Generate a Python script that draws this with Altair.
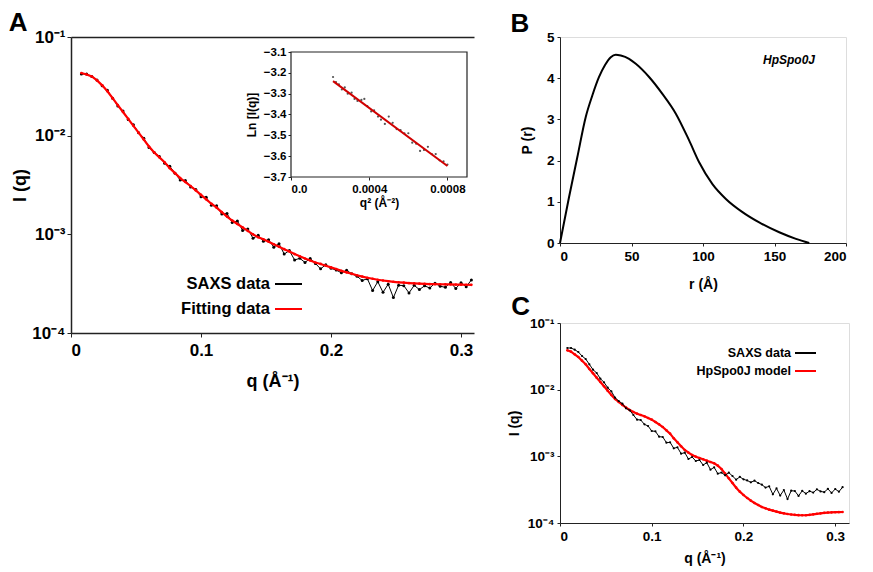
import altair as alt
import pandas as pd

FONT = "Liberation Sans"

# ---------------- data ----------------
q = [0.008, 0.012, 0.016, 0.020, 0.024, 0.028, 0.032, 0.036, 0.040, 0.044,
     0.048, 0.052, 0.056, 0.060, 0.064, 0.068, 0.072, 0.076, 0.080, 0.084,
     0.088, 0.092, 0.096, 0.100, 0.104, 0.108, 0.112, 0.116, 0.120, 0.124,
     0.128, 0.132, 0.136, 0.140, 0.144, 0.148, 0.152, 0.156, 0.160, 0.164,
     0.168, 0.172, 0.176, 0.180, 0.184, 0.188, 0.192, 0.196, 0.200, 0.204,
     0.208, 0.212, 0.216, 0.220, 0.224, 0.228, 0.232, 0.236, 0.240, 0.244,
     0.248, 0.252, 0.256, 0.260, 0.264, 0.268, 0.272, 0.276, 0.280, 0.284,
     0.288, 0.292, 0.296, 0.300, 0.304, 0.308]

# log10 I(q) of the SAXS data (black)
saxs_log10 = [-1.375, -1.375, -1.400, -1.435, -1.495, -1.540, -1.620, -1.700, -1.750, -1.835,
              -1.890, -1.970, -2.025, -2.120, -2.170, -2.210, -2.280, -2.310, -2.380, -2.450,
              -2.455, -2.520, -2.545, -2.620, -2.625, -2.705, -2.710, -2.795, -2.790, -2.880,
              -2.865, -2.960, -2.945, -3.040, -3.010, -3.070, -3.055, -3.130, -3.095, -3.200,
              -3.165, -3.260, -3.243, -3.285, -3.245, -3.295, -3.350, -3.308, -3.345, -3.362,
              -3.390, -3.365, -3.400, -3.425, -3.468, -3.450, -3.570, -3.480, -3.588, -3.505,
              -3.641, -3.516, -3.520, -3.594, -3.517, -3.560, -3.522, -3.544, -3.495, -3.526,
              -3.537, -3.488, -3.549, -3.490, -3.531, -3.462]

# log10 I(q) of the fitting curve (red, panel A)
fit_log10 = [-1.365, -1.380, -1.400, -1.440, -1.490, -1.550, -1.620, -1.690, -1.760, -1.830,
             -1.900, -1.970, -2.040, -2.110, -2.170, -2.220, -2.270, -2.330, -2.380, -2.430,
             -2.470, -2.510, -2.555, -2.600, -2.645, -2.690, -2.730, -2.775, -2.820, -2.860,
             -2.895, -2.930, -2.965, -3.000, -3.030, -3.050, -3.075, -3.100, -3.125, -3.150,
             -3.175, -3.200, -3.223, -3.245, -3.265, -3.285, -3.300, -3.318, -3.335, -3.352,
             -3.370, -3.385, -3.400, -3.415, -3.428, -3.440, -3.450, -3.460, -3.468, -3.475,
             -3.481, -3.486, -3.490, -3.494, -3.497, -3.500, -3.502, -3.504, -3.505, -3.506,
             -3.507, -3.508, -3.509, -3.510, -3.511, -3.512]

# log10 I(q) of the HpSpo0J model (red, panel C)
model_log10 = [-1.410, -1.430, -1.470, -1.510, -1.565, -1.620, -1.690, -1.755, -1.820, -1.885,
               -1.950, -2.015, -2.080, -2.140, -2.185, -2.230, -2.270, -2.305, -2.335, -2.360,
               -2.380, -2.400, -2.425, -2.450, -2.485, -2.520, -2.560, -2.610, -2.660, -2.730,
               -2.790, -2.850, -2.905, -2.945, -2.980, -3.005, -3.025, -3.045, -3.065, -3.085,
               -3.105, -3.140, -3.190, -3.260, -3.330, -3.400, -3.470, -3.530, -3.580, -3.625,
               -3.665, -3.700, -3.730, -3.760, -3.780, -3.800, -3.815, -3.830, -3.845, -3.855,
               -3.865, -3.872, -3.878, -3.882, -3.884, -3.883, -3.878, -3.870, -3.862, -3.855,
               -3.848, -3.843, -3.840, -3.838, -3.836, -3.835]

# Guinier inset
guinier_q2 = [0.000215, 0.00023, 0.000245, 0.00026, 0.000275, 0.00029, 0.00031, 0.000325,
              0.00034, 0.00036, 0.000375, 0.00039, 0.00041, 0.000425, 0.000445, 0.00046,
              0.00048, 0.0005, 0.00052, 0.00054, 0.00056, 0.00058, 0.0006, 0.00062,
              0.00064, 0.00066, 0.00068, 0.0007, 0.00072, 0.00074, 0.00076, 0.00078, 0.0008]
guinier_lnI = [-3.220, -3.245, -3.255, -3.280, -3.270, -3.300, -3.295, -3.325,
               -3.335, -3.330, -3.325, -3.360, -3.385, -3.380, -3.410, -3.425,
               -3.445, -3.410, -3.440, -3.470, -3.475, -3.490, -3.490, -3.535,
               -3.540, -3.575, -3.570, -3.555, -3.590, -3.590, -3.620, -3.625, -3.640]
guinier_fit_q2 = [0.000215, 0.0008]
guinier_fit_lnI = [-3.240, -3.647]

# Pair distance distribution
r_vals = [0, 6.3, 12.1, 18, 22.6, 27.3, 31.5, 35.5, 39, 42.5, 48.3, 53, 62.3, 71.6, 81, 90.3,
          97.3, 106.6, 116, 127.6, 139.3, 153.3, 165, 174.3]
p_vals = [0, 1.11, 2.08, 3.06, 3.58, 4.03, 4.32, 4.51, 4.57, 4.55, 4.47, 4.35, 4.03, 3.62,
          3.14, 2.49, 1.96, 1.43, 1.07, 0.75, 0.50, 0.26, 0.10, 0.0]

# axis / domain settings
A_q_domain = [0, 0.31]
I_domain = [1e-4, 1e-1]
C_q_domain = [0, 0.315]
inset_x_domain = [0, 0.0009]
inset_y_domain = [-3.7, -3.1]

A_W, A_H = 403, 296
B_W, B_H = 286, 206
C_W, C_H = 289, 200

# ---------------- frames ----------------
saxs_I = [10 ** v for v in saxs_log10]
fit_I = [10 ** v for v in fit_log10]
model_I = [10 ** v for v in model_log10]

dfA_saxs = pd.DataFrame({"q": q, "I": saxs_I, "series": "SAXS data"})
dfA_fit = pd.DataFrame({"q": q, "I": fit_I, "series": "Fitting data"})
dfC_saxs = pd.DataFrame({"q": q, "I": saxs_I, "series": "SAXS data"})
dfC_model = pd.DataFrame({"q": q, "I": model_I, "series": "HpSpo0J  model"})
df_g = pd.DataFrame({"q2": guinier_q2, "lnI": guinier_lnI})
df_gfit = pd.DataFrame({"q2": guinier_fit_q2, "lnI": guinier_fit_lnI})
df_frame = pd.DataFrame({"x0": [inset_x_domain[0]], "x1": [inset_x_domain[1]],
                         "y0": [inset_y_domain[0]], "y1": [inset_y_domain[1]]})
dfB = pd.DataFrame({"r": r_vals, "P": p_vals, "name": "HpSpo0J"})

sup_expr = ("'10' + (round(log(datum.value)/LN10) == -1 ? '\u207b\u00b9' : "
            "round(log(datum.value)/LN10) == -2 ? '\u207b\u00b2' : "
            "round(log(datum.value)/LN10) == -3 ? '\u207b\u00b3' : '\u207b\u2074')")
q_expr = "datum.value == 0 ? '0' : format(datum.value, '.1f')"

AX = dict(labelFont=FONT, titleFont=FONT, labelFontWeight="bold", titleFontWeight="bold",
          labelColor="black", titleColor="black", domainColor="#222", tickColor="#222", grid=False)

# ---------------- Panel A ----------------
xA_scale = alt.Scale(domain=A_q_domain, nice=False, zero=False)
yA_scale = alt.Scale(type="log", domain=I_domain, nice=False)

xA = alt.X("q:Q", scale=xA_scale,
           axis=alt.Axis(orient="bottom", values=[0, 0.1, 0.2, 0.3], labelExpr=q_expr,
                         title="q (\u00c5\u207b\u00b9)", labelFontSize=17, titleFontSize=18,
                         labelPadding=5, titlePadding=14, tickSize=4, domainWidth=1.5, **AX))
yA = alt.Y("I:Q", scale=yA_scale,
           axis=alt.Axis(orient="left", values=[1e-4, 1e-3, 1e-2, 1e-1], labelExpr=sup_expr,
                         title="I (q)", labelFontSize=17, titleFontSize=18,
                         labelPadding=2, titlePadding=2, tickSize=4, domainWidth=1.5, **AX))
# line sample drawn to the right of the (right-aligned) label
colorA = alt.Color("series:N",
                   scale=alt.Scale(domain=["SAXS data", "Fitting data"], range=["black", "#ff0000"]),
                   legend=alt.Legend(orient="none", legendX=177, legendY=236, title=None,
                                     symbolType="M 1.6 0 L 4.3 0", symbolSize=400,
                                     symbolStrokeWidth=2, symbolFillColor="transparent",
                                     labelAlign="right", labelOffset=0,
                                     labelFontSize=16.5,
                                     labelFont=FONT, labelFontWeight="bold", labelColor="black",
                                     rowPadding=5, padding=0))

a_saxs_line = alt.Chart(dfA_saxs).mark_line(strokeWidth=1).encode(x=xA, y=yA, color=colorA)
a_saxs_pts = alt.Chart(dfA_saxs).mark_point(filled=True, size=9, color="black", opacity=1).encode(x="q:Q", y="I:Q")
a_fit_line = alt.Chart(dfA_fit).mark_line(strokeWidth=2.2).encode(x="q:Q", y="I:Q", color=colorA)
a_fit_pts = alt.Chart(dfA_fit).mark_point(filled=True, size=7, color="#ff0000", opacity=1).encode(x="q:Q", y="I:Q")
main_A = alt.layer(a_saxs_line, a_saxs_pts, a_fit_line, a_fit_pts)

top_border = alt.Chart(dfA_fit).mark_line(opacity=0).encode(
    x=alt.X("q:Q", scale=xA_scale,
            axis=alt.Axis(orient="top", labels=False, ticks=False, title=None, domainWidth=1.5,
                          domainColor="#222", grid=False)),
    y=alt.Y("I:Q", scale=yA_scale, axis=None))

inset_xs = alt.Scale(domain=inset_x_domain, range=[220, 396], nice=False, zero=False)
inset_ys = alt.Scale(domain=inset_y_domain, range=[140, 15], nice=False, zero=False)
inset_frame = alt.Chart(df_frame).mark_rect(fill="white", stroke="#222", strokeWidth=1.2).encode(
    x=alt.X("x0:Q", scale=inset_xs,
            axis=alt.Axis(orient="bottom", offset=-(A_H - 140), values=[0, 0.0004, 0.0008],
                          labelExpr="datum.value == 0 ? '0.0' : format(datum.value, '.4f')",
                          title="q\u00b2 (\u00c5\u207b\u00b2)", labelFontSize=11.5, titleFontSize=12,
                          labelPadding=3, titlePadding=3, tickSize=3, domain=False, **AX)),
    x2="x1:Q",
    y=alt.Y("y0:Q", scale=inset_ys,
            axis=alt.Axis(orient="left", offset=-220,
                          values=[-3.7, -3.6, -3.5, -3.4, -3.3, -3.2, -3.1], format=".1f",
                          title="Ln [I(q)]", labelFontSize=11.5, titleFontSize=12,
                          labelPadding=2, titlePadding=5, tickSize=3, domain=False, **AX)),
    y2="y1:Q")
inset_pts = alt.Chart(df_g).mark_point(filled=True, size=5, color="#555", opacity=1).encode(x="q2:Q", y="lnI:Q")
inset_line = alt.Chart(df_gfit).mark_line(color="#d00000", strokeWidth=2).encode(x="q2:Q", y="lnI:Q")
inset_A = alt.layer(inset_frame, inset_pts, inset_line)

panelA = alt.layer(main_A, inset_A, top_border).resolve_scale(
    x="independent", y="independent").resolve_axis(x="independent", y="independent").properties(
    width=A_W, height=A_H, view=alt.ViewBackground(stroke=None),
    title=alt.Title("A", anchor="start", fontSize=26, font=FONT, fontWeight="bold",
                    dx=-3, dy=-2, offset=-10))

# ---------------- Panel B ----------------
panelB = alt.Chart(dfB).mark_line(strokeWidth=2, interpolate="monotone").encode(
    x=alt.X("r:Q", scale=alt.Scale(domain=[0, 200], nice=False),
            axis=alt.Axis(values=[0, 50, 100, 150, 200], title="r (\u00c5)", labelFontSize=13.5,
                          titleFontSize=14, labelPadding=3, titlePadding=15, tickSize=3, **AX)),
    y=alt.Y("P:Q", scale=alt.Scale(domain=[0, 5], nice=False),
            axis=alt.Axis(values=[0, 1, 2, 3, 4, 5], title="P (r)", labelFontSize=13.5,
                          titleFontSize=14, labelPadding=3, titlePadding=12, tickSize=3, **AX)),
    color=alt.Color("name:N", scale=alt.Scale(domain=["HpSpo0J"], range=["black"]),
                    legend=alt.Legend(orient="none", legendX=187, legendY=17, title=None,
                                      symbolOpacity=0, symbolSize=1, labelFontSize=12,
                                      labelFont=FONT, labelFontWeight="bold",
                                      labelFontStyle="italic", labelColor="black", padding=0))
).properties(width=B_W, height=B_H,
             title=alt.Title("B", anchor="start", fontSize=26, font=FONT, fontWeight="bold",
                             dx=-10, dy=-3, offset=-10))

# ---------------- Panel C ----------------
xC_scale = alt.Scale(domain=C_q_domain, nice=False, zero=False)
xC = alt.X("q:Q", scale=xC_scale,
           axis=alt.Axis(values=[0, 0.1, 0.2, 0.3], labelExpr=q_expr, title="q (\u00c5\u207b\u00b9)",
                         labelFontSize=13.5, titleFontSize=14, labelPadding=3, titlePadding=9,
                         tickSize=3, **AX))
yC = alt.Y("I:Q", scale=yA_scale,
           axis=alt.Axis(values=[1e-4, 1e-3, 1e-2, 1e-1], labelExpr=sup_expr, title="I (q)",
                         labelFontSize=13.5, titleFontSize=14, labelPadding=3, titlePadding=6,
                         tickSize=3, **AX))
colorC = alt.Color("series:N",
                   scale=alt.Scale(domain=["SAXS data", "HpSpo0J  model"], range=["black", "#ff0000"]),
                   legend=alt.Legend(orient="none", legendX=217, legendY=23, title=None,
                                     symbolType="M 1.83 0 L 5.33 0", symbolSize=144,
                                     symbolStrokeWidth=2, symbolFillColor="transparent",
                                     labelAlign="right", labelOffset=0,
                                     labelFontSize=12.5,
                                     labelFont=FONT, labelFontWeight="bold", labelColor="black",
                                     rowPadding=4, padding=0))
c_model_line = alt.Chart(dfC_model).mark_line(strokeWidth=2.2).encode(x=xC, y=yC, color=colorC)
c_model_pts = alt.Chart(dfC_model).mark_point(filled=True, size=7, color="#ff0000", opacity=1).encode(x="q:Q", y="I:Q")
c_saxs_line = alt.Chart(dfC_saxs).mark_line(strokeWidth=1).encode(x="q:Q", y="I:Q", color=colorC)
c_saxs_pts = alt.Chart(dfC_saxs).mark_point(filled=True, size=5, color="black", opacity=1).encode(x="q:Q", y="I:Q")
panelC = alt.layer(c_model_line, c_model_pts, c_saxs_line, c_saxs_pts).properties(
    width=C_W, height=C_H,
    title=alt.Title("C", anchor="start", fontSize=26, font=FONT, fontWeight="bold",
                    dx=4, dy=-2, offset=-6))

right_col = alt.vconcat(panelB, panelC, spacing=80, bounds="flush").resolve_scale(
    color="independent").resolve_legend(color="independent")

chart = alt.hconcat(panelA, right_col, spacing=86, bounds="flush").resolve_scale(
    color="independent").resolve_legend(color="independent").properties(
    padding={"left": 0, "top": 2, "right": 0, "bottom": 5}
).configure_view(
    stroke="#222", strokeWidth=1.2
).configure_axis(**AX).configure(background="white")

chart.save("out.html", embed_options={"renderer": "svg", "actions": False})
